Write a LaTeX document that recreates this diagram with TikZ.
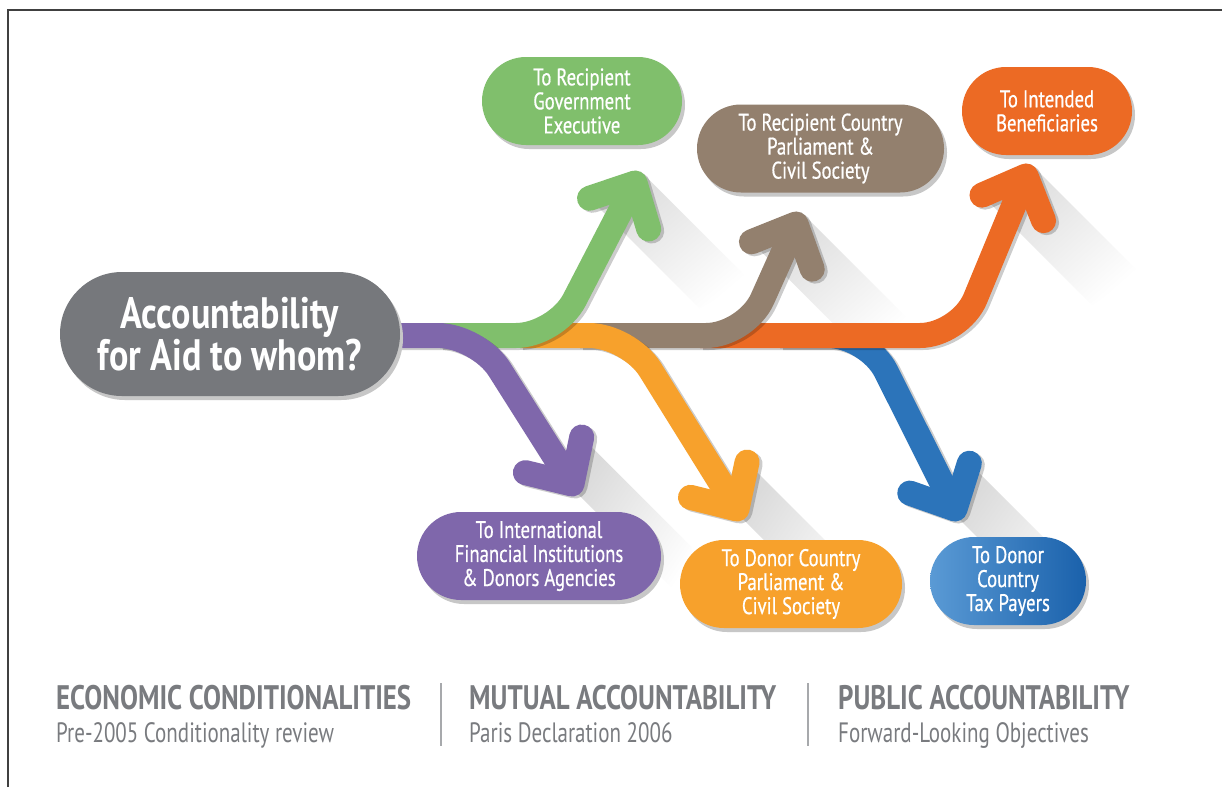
\documentclass[tikz,border=0pt]{standalone}
\usepackage{fontspec}
\setmainfont{PT Sans}[FakeStretch=0.8]
\newfontfamily\pillfont{PT Sans}[FakeStretch=0.78, FakeBold=0.6]
\newfontfamily\mainfont{PT Sans}[FakeStretch=0.82]
\newfontfamily\headfont{PT Sans}[FakeStretch=0.79]
\newfontfamily\botfont{PT Sans}[FakeStretch=0.75]
\usetikzlibrary{calc,shadows,fadings}
\definecolor{cgreen}{HTML}{80BF6C}
\definecolor{cbrown}{HTML}{93806E}
\definecolor{cred}{HTML}{EC6A24}
\definecolor{cpurple}{HTML}{7F67AB}
\definecolor{corange}{HTML}{F7A12C}
\definecolor{cblue}{HTML}{2C74BA}
\definecolor{cblueL}{HTML}{5A9AD5}
\definecolor{cblueD}{HTML}{1A61AB}
\definecolor{cmain}{HTML}{76787C}
\definecolor{ctext}{HTML}{797B7F}
\definecolor{csep}{HTML}{A7A9AC}
\tikzfading[name=shfade, left color=transparent!0, right color=transparent!100]
\tikzset{
  pill/.style={rounded corners=44pt, minimum height=88pt, text=white, align=center,
    font=\pillfont\fontsize{24}{24}\selectfont, inner sep=0pt,
    drop shadow={shadow xshift=3pt, shadow yshift=-4pt, fill=black!22, opacity=1}},
  shaft/.style={line width=25pt, rounded corners=40pt},
  head/.style={line width=25pt, line cap=round, line join=round},
  longshadow/.style={fill=black!14, path fading=shfade, fading angle=-45},
  bothead/.style={anchor=base west, inner sep=0pt, text=ctext, font=\headfont\bfseries\fontsize{34}{34}\selectfont},
  botsub/.style={anchor=base west, inner sep=0pt, text=ctext, font=\botfont\fontsize{28}{28}\selectfont},
  sepline/.style={line width=1.6pt, csep},
}
% #1 name, #2 start x, #3 corner x, #4 Vx, #5 Vy, #6 forward angle
\newcommand{\aiddefs}[6]{%
  \coordinate (#1s) at (#2,335.5);
  \coordinate (#1c) at (#3,335.5);
  \coordinate (#1v) at (#4,#5);
  \coordinate (#1a) at ($(#1v)+(#6+136:48)$);
  \coordinate (#1b) at ($(#1v)+(#6+224:48)$);
  \coordinate (#1t) at ($(#1v)+(#6:13)$);
}
\newcommand{\aidshadow}[1]{%
  \fill[longshadow] (#1b) -- (#1t) -- ($(#1t)+(110,110)$) -- ($(#1b)+(110,110)$) -- cycle;
}
\newcommand{\aiddraw}[2]{%
  \begin{scope}[transparency group, opacity=0.2, transform canvas={xshift=3pt, yshift=-2pt}]
    \draw[shaft, black] (#1s) -- (#1c) -- (#1v);
    \draw[head, black] (#1a) -- (#1v) -- (#1b);
  \end{scope}
  \draw[shaft, #2] (#1s) -- (#1c) -- (#1v);
  \draw[head, #2] (#1a) -- (#1v) -- (#1b);
}
\begin{document}
\begin{tikzpicture}[x=1pt, y=-1pt]
\useasboundingbox (0,0) rectangle (1222,787);
\fill[white] (0,0) rectangle (1222,787);

% arrow geometry
\aiddefs{pu}{385}{478}{572}{484}{57.7}
\aiddefs{gr}{440}{556}{635}{183}{-62.6}
\aiddefs{or}{520}{629}{737}{509}{58.1}
\aiddefs{br}{580}{746}{796}{224}{-65.8}
\aiddefs{re}{700}{960}{1026}{176}{-67.5}
\aiddefs{bl}{780}{868}{955}{509}{63.4}

% long soft shadows
\aidshadow{pu}
\aidshadow{gr}
\aidshadow{or}
\aidshadow{br}
\aidshadow{re}
\aidshadow{bl}

% target pills
\node[pill, fill=cgreen, minimum width=200pt] (pgreen) at (582,101) {To Recipient\\Government\\Executive};
\node[pill, fill=cbrown, minimum width=247pt] (pbrown) at (820.5,148.5) {To Recipient Country\\Parliament \&\\Civil Society};
\node[pill, fill=cred, minimum width=170pt] (pred) at (1047,111) {To Intended\\Beneficiaries};
\node[pill, fill=cpurple, minimum width=244pt] (ppurple) at (539,556) {To International\\Financial Institutions\\\& Donors Agencies};
\node[pill, fill=corange, minimum width=222pt] (porange) at (791,584) {To Donor Country\\Parliament \&\\Civil Society};
\node[pill, left color=cblueL, right color=cblueD, minimum width=156pt] (pblue) at (1008,581) {To Donor\\Country\\Tax Payers};

% arrows, back to front
\aiddraw{bl}{cblue}
\aiddraw{re}{cred}
\aiddraw{br}{cbrown}
\aiddraw{or}{corange}
\aiddraw{gr}{cgreen}
\aiddraw{pu}{cpurple}

% main pill
\node[pill, fill=cmain, minimum width=340pt, minimum height=124pt, rounded corners=62pt,
      font=\mainfont\bfseries\fontsize{44}{40}\selectfont] (main) at (230,334) {Accountability\\for Aid to whom?};

% bottom legend
\node[bothead] (h1) at (56,709) {ECONOMIC CONDITIONALITIES};
\node[botsub] (s1) at (56,742) {Pre-2005 Conditionality review};
\node[bothead] (h2) at (469,709) {MUTUAL ACCOUNTABILITY};
\node[botsub] (s2) at (469,742) {Paris Declaration 2006};
\node[bothead] (h3) at (838,709) {PUBLIC ACCOUNTABILITY};
\node[botsub] (s3) at (838,742) {Forward-Looking Objectives};
\draw[sepline] (441,683) -- (441,746);
\draw[sepline] (808,683) -- (808,746);

% frame
\draw[line width=1.6pt, black!75] (8,787) -- (8,10) -- (1222,10);
\end{tikzpicture}
\end{document}
